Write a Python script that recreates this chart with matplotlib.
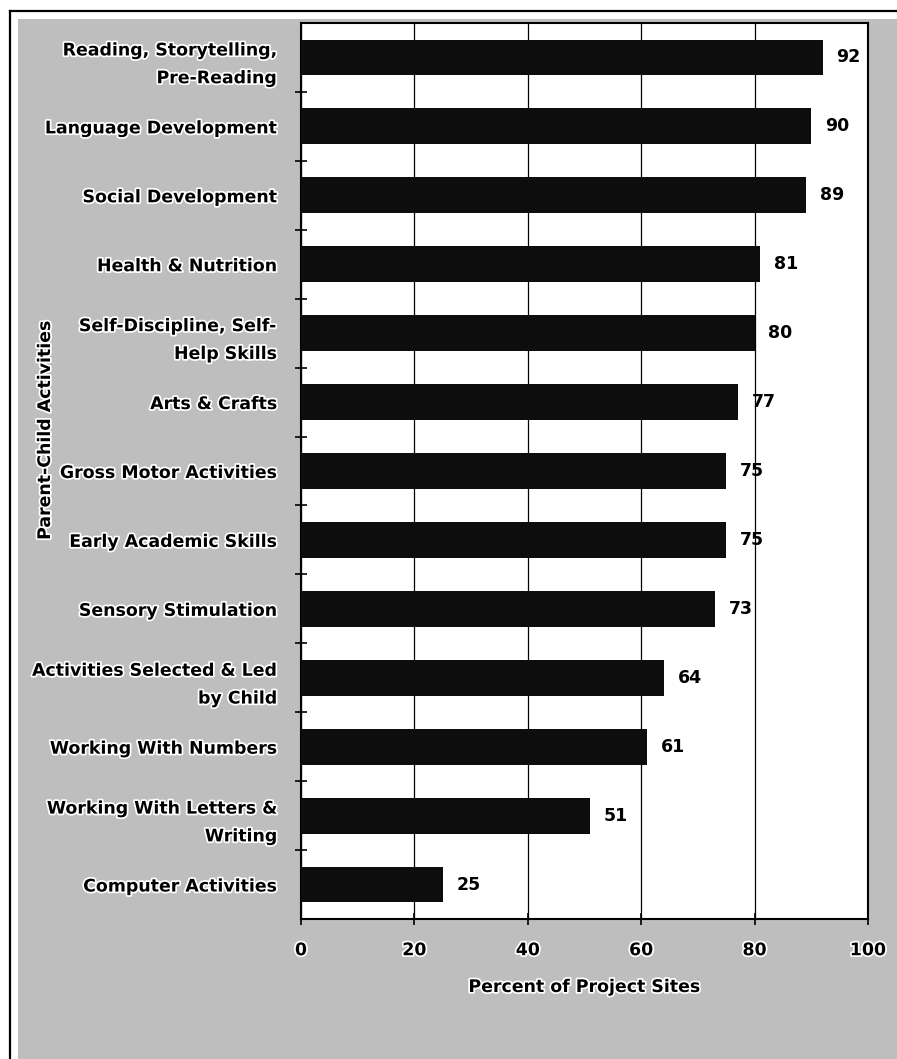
import matplotlib
matplotlib.use("Agg")
import matplotlib.pyplot as plt
import matplotlib.patheffects as pe
from matplotlib.patches import Rectangle
from matplotlib.lines import Line2D
import numpy as np

# Activities, listed top to bottom, with the share of sites offering each
activities = [
    "Reading, Storytelling,\nPre-Reading",
    "Language Development",
    "Social Development",
    "Health & Nutrition",
    "Self-Discipline, Self-\nHelp Skills",
    "Arts & Crafts",
    "Gross Motor Activities",
    "Early Academic Skills",
    "Sensory Stimulation",
    "Activities Selected & Led\nby Child",
    "Working With Numbers",
    "Working With Letters &\nWriting",
    "Computer Activities",
]
percent_sites = [92, 90, 89, 81, 80, 77, 75, 75, 73, 64, 61, 51, 25]
x_ticks = [0, 20, 40, 60, 80, 100]
x_title = "Percent of Project Sites"
y_title = "Parent-Child Activities"

W, H = 897, 1059
FONT = 12.5
halo = [pe.withStroke(linewidth=2.5, foreground="white")]

plt.rcParams["font.family"] = ["DejaVu Sans"]
plt.rcParams["font.weight"] = "bold"

fig = plt.figure(figsize=(W / 100, H / 100), dpi=100, facecolor="white")

# shaded panel and frame lines
fig.add_artist(Rectangle((18 / W, 0), 1 - 18 / W, 1 - 19 / H,
                         transform=fig.transFigure, facecolor="#bebebe",
                         edgecolor="none", zorder=-5))
fig.add_artist(Line2D([10 / W, 10 / W], [0, 1 - 11 / H], transform=fig.transFigure,
                      color="black", lw=1.6))
fig.add_artist(Line2D([10 / W, 1], [1 - 11 / H, 1 - 11 / H], transform=fig.transFigure,
                      color="black", lw=1.6))

ax = fig.add_axes([301 / W, (H - 919) / H, 567 / W, (919 - 23) / H])
ax.set_facecolor("white")

n = len(activities)
ypos = np.arange(n)
ax.barh(ypos, percent_sites, height=0.52, color="#0d0d0d", zorder=3)

for y, v in zip(ypos, percent_sites):
    ax.annotate(f"{v}", (v, y), xytext=(10, 0), textcoords="offset points",
                va="center", ha="left", fontsize=FONT, fontweight="bold",
                color="black", zorder=2)

ax.set_xlim(0, 100)
ax.set_ylim(n - 0.5, -0.5)

ax.set_axisbelow(False)
ax.xaxis.grid(True, color="black", lw=0.9)
ax.yaxis.grid(False)

ax.set_xticks(x_ticks)
ax.set_xticklabels([str(t) for t in x_ticks], fontsize=FONT, fontweight="bold")
ax.tick_params(axis="x", direction="inout", length=8, width=1.2, pad=12)
for lbl in ax.get_xticklabels():
    lbl.set_path_effects(halo)

ax.set_yticks(ypos)
ax.set_yticklabels(activities, fontsize=FONT, fontweight="bold",
                   linespacing=1.7)
ax.tick_params(axis="y", which="major", length=0, pad=17)
for lbl in ax.get_yticklabels():
    lbl.set_path_effects(halo)
ax.set_yticks(np.arange(n - 1) + 0.5, minor=True)
ax.tick_params(axis="y", which="minor", direction="inout", length=9, width=1.2)

for s in ax.spines.values():
    s.set_color("black")
    s.set_linewidth(1.5)

fig.text(0.5 * (301 + 868) / W, 1 - 987 / H, x_title, ha="center", va="center",
         fontsize=FONT, fontweight="bold", path_effects=halo)
fig.text(45 / W, 1 - 430 / H, y_title, ha="center", va="center", rotation=90,
         fontsize=FONT, fontweight="bold", path_effects=halo)

fig.savefig("out.png", dpi=100, facecolor="white")
